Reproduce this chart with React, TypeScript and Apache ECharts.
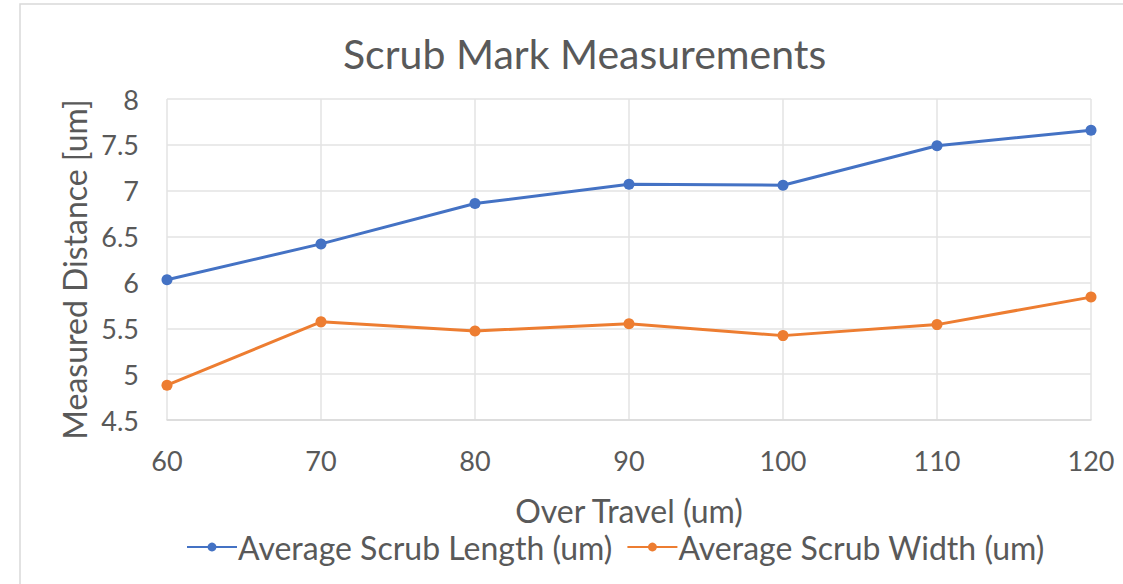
import React, { useEffect, useRef } from "react";
import * as echarts from "echarts";

const overTravel = [60, 70, 80, 90, 100, 110, 120];
const avgLength = [6.03, 6.42, 6.86, 7.07, 7.06, 7.49, 7.66];
const avgWidth = [4.88, 5.57, 5.47, 5.55, 5.42, 5.54, 5.84];
const seriesNames = ["Average Scrub Length (um)", "Average Scrub Width (um)"];

const FONT = "Lato, 'Open Sans', sans-serif";
const TXT = "#595959";

export default function App() {
  const ref = useRef<HTMLDivElement>(null);
  useEffect(() => {
    if (!ref.current) return;
    const chart = echarts.init(ref.current, undefined, { renderer: "svg" });
    const mk = (xs: number[], ys: number[]) => xs.map((x, i) => [x, ys[i]]);
    chart.setOption({
      animation: false,
      backgroundColor: "#ffffff",
      textStyle: { fontFamily: FONT },
      graphic: [
        {
          type: "rect",
          shape: { x: 20, y: 4, width: 1200, height: 700 },
          style: { fill: "none", stroke: "#d9d9d9", lineWidth: 1.5 },
          silent: true,
        },
      ],
      title: {
        text: "Scrub Mark Measurements",
        left: 338,
        top: 28,
        textStyle: { fontFamily: FONT, fontSize: 41, fontWeight: "normal", color: TXT },
      },
      grid: { left: 167, right: 32, top: 99, bottom: 164 },
      xAxis: {
        type: "value",
        min: 60,
        max: 120,
        interval: 10,
        name: "Over Travel (um)",
        nameLocation: "middle",
        nameGap: 74,
        nameTextStyle: { fontFamily: FONT, fontSize: 32, color: TXT },
        axisLine: { show: true, lineStyle: { color: "#d9d9d9", width: 1.5 } },
        axisTick: { show: false },
        axisLabel: { fontFamily: FONT, fontSize: 27, color: TXT, margin: 27 },
        splitLine: { show: true, lineStyle: { color: "#e3e3e3", width: 1.5 } },
      },
      yAxis: {
        type: "value",
        min: 4.5,
        max: 8,
        interval: 0.5,
        name: "Measured Distance [um]",
        nameLocation: "middle",
        nameGap: 70,
        nameTextStyle: { fontFamily: FONT, fontSize: 32, color: TXT, padding: [0, 20, 0, 0] },
        axisLine: { show: false },
        axisTick: { show: false },
        axisLabel: { fontFamily: FONT, fontSize: 27, color: TXT, margin: 28 },
        splitLine: { show: true, lineStyle: { color: "#e3e3e3", width: 1.5 } },
      },
      legend: {
        bottom: 16,
        left: 181,
        itemGap: 14,
        itemWidth: 50,
        itemHeight: 11,
        data: seriesNames,
        textStyle: { fontFamily: FONT, fontSize: 32, color: TXT, padding: [0, 0, 0, -4] },
      },
      series: [
        {
          name: seriesNames[0],
          type: "line",
          data: mk(overTravel, avgLength),
          symbol: "circle",
          symbolSize: 11,
          color: "#4472c4",
          lineStyle: { width: 3, color: "#4472c4" },
          itemStyle: { color: "#4472c4" },
        },
        {
          name: seriesNames[1],
          type: "line",
          data: mk(overTravel, avgWidth),
          symbol: "circle",
          symbolSize: 11,
          color: "#ed7d31",
          lineStyle: { width: 3, color: "#ed7d31" },
          itemStyle: { color: "#ed7d31" },
        },
      ],
    });
    return () => chart.dispose();
  }, []);
  return (
    <div
      ref={ref}
      style={{ position: "fixed", left: 0, top: 0, width: 1123, height: 584 }}
    />
  );
}
